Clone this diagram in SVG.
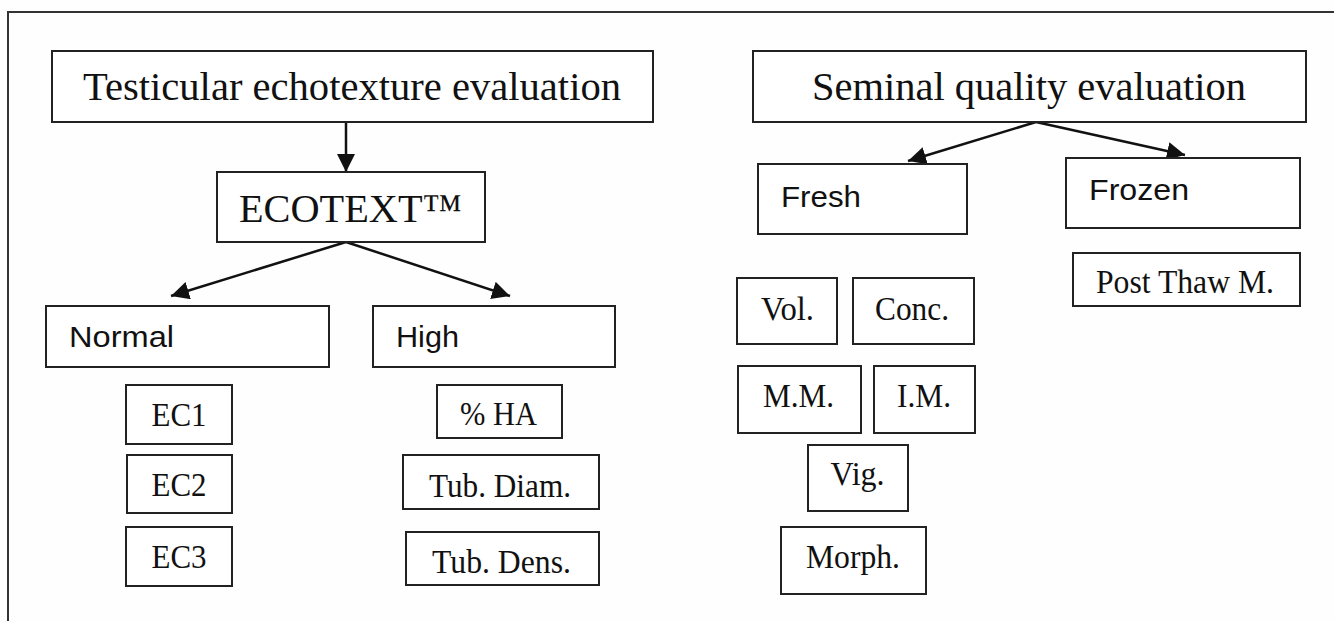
<svg xmlns="http://www.w3.org/2000/svg" width="1334" height="621" viewBox="0 0 1334 621">
  <style>
    .box { fill: #ffffff; stroke: #222222; stroke-width: 2; }
    .serif { font-family: "Liberation Serif", "Times New Roman", serif; fill: #111111; text-anchor: middle; }
    .sans { font-family: "Liberation Sans", Arial, sans-serif; fill: #111111; font-size: 30px; }
    .big { font-size: 40.5px; }
    .small { font-size: 33px; }
    .link { fill: none; stroke: #111111; stroke-width: 2.5; }
  </style>
  <defs>
    <marker id="arrow" markerUnits="userSpaceOnUse" markerWidth="20" markerHeight="20" refX="18" refY="9" orient="auto">
      <path d="M0,0 L18,9 L0,18 Z" fill="#111111"/>
    </marker>
  </defs>

  <rect x="0" y="0" width="1334" height="621" fill="#fefefe"/>
  <!-- page frame: top and left rules only -->
  <path d="M8,621 V12 H1334" fill="none" stroke="#333333" stroke-width="2"/>

  <g id="connectors">
    <line class="link" x1="346" y1="122" x2="346" y2="172" marker-end="url(#arrow)"/>
    <line class="link" x1="346" y1="242" x2="171" y2="296" marker-end="url(#arrow)"/>
    <line class="link" x1="346" y1="242" x2="510" y2="296" marker-end="url(#arrow)"/>
    <line class="link" x1="1036" y1="122" x2="908" y2="161" marker-end="url(#arrow)"/>
    <line class="link" x1="1036" y1="122" x2="1185" y2="155" marker-end="url(#arrow)"/>
  </g>

  <!-- left tree -->
  <g id="testicular">
    <rect class="box" x="52" y="51" width="601" height="71"/>
    <text class="serif big" x="352" y="100" textLength="538" lengthAdjust="spacingAndGlyphs">Testicular echotexture evaluation</text>
  </g>
  <g id="ecotext">
    <rect class="box" x="217" y="172" width="268" height="70"/>
    <text class="serif big" x="350.5" y="222" textLength="223" lengthAdjust="spacingAndGlyphs">ECOTEXT™</text>
  </g>
  <g id="normal">
    <rect class="box" x="46" y="306" width="283" height="61"/>
    <text class="sans" x="69" y="347" textLength="105" lengthAdjust="spacingAndGlyphs">Normal</text>
  </g>
  <g id="high">
    <rect class="box" x="373" y="306" width="242" height="61"/>
    <text class="sans" x="396" y="347" textLength="63" lengthAdjust="spacingAndGlyphs">High</text>
  </g>
  <g id="ec1">
    <rect class="box" x="126" y="385" width="106" height="59"/>
    <text class="serif small" x="179" y="426" textLength="55" lengthAdjust="spacingAndGlyphs">EC1</text>
  </g>
  <g id="ec2">
    <rect class="box" x="127" y="455" width="105" height="58"/>
    <text class="serif small" x="179" y="496" textLength="55" lengthAdjust="spacingAndGlyphs">EC2</text>
  </g>
  <g id="ec3">
    <rect class="box" x="126" y="527" width="106" height="59"/>
    <text class="serif small" x="179" y="568" textLength="55" lengthAdjust="spacingAndGlyphs">EC3</text>
  </g>
  <g id="ha">
    <rect class="box" x="437" y="385" width="125" height="53"/>
    <text class="serif small" x="498.5" y="425" textLength="77" lengthAdjust="spacingAndGlyphs">% HA</text>
  </g>
  <g id="tub-diam">
    <rect class="box" x="403" y="455" width="196" height="54"/>
    <text class="serif small" x="500" y="497" textLength="142" lengthAdjust="spacingAndGlyphs">Tub. Diam.</text>
  </g>
  <g id="tub-dens">
    <rect class="box" x="406" y="532" width="193" height="53"/>
    <text class="serif small" x="501.5" y="573" textLength="139" lengthAdjust="spacingAndGlyphs">Tub. Dens.</text>
  </g>

  <!-- right tree -->
  <g id="seminal">
    <rect class="box" x="753" y="51" width="553" height="71"/>
    <text class="serif big" x="1029" y="100" textLength="434" lengthAdjust="spacingAndGlyphs">Seminal quality evaluation</text>
  </g>
  <g id="fresh">
    <rect class="box" x="758" y="164" width="209" height="70"/>
    <text class="sans" x="781" y="207" textLength="80" lengthAdjust="spacingAndGlyphs">Fresh</text>
  </g>
  <g id="frozen">
    <rect class="box" x="1066" y="158" width="234" height="70"/>
    <text class="sans" x="1089" y="200" textLength="100" lengthAdjust="spacingAndGlyphs">Frozen</text>
  </g>
  <g id="post-thaw">
    <rect class="box" x="1073" y="253" width="227" height="53"/>
    <text class="serif small" x="1185" y="293" textLength="178" lengthAdjust="spacingAndGlyphs">Post Thaw M.</text>
  </g>
  <g id="vol">
    <rect class="box" x="737" y="278" width="100" height="66"/>
    <text class="serif small" x="787.5" y="320" textLength="53" lengthAdjust="spacingAndGlyphs">Vol.</text>
  </g>
  <g id="conc">
    <rect class="box" x="853" y="278" width="121" height="66"/>
    <text class="serif small" x="912" y="320" textLength="74" lengthAdjust="spacingAndGlyphs">Conc.</text>
  </g>
  <g id="mm">
    <rect class="box" x="738" y="366" width="123" height="67"/>
    <text class="serif small" x="798.5" y="407" textLength="71" lengthAdjust="spacingAndGlyphs">M.M.</text>
  </g>
  <g id="im">
    <rect class="box" x="874" y="366" width="101" height="67"/>
    <text class="serif small" x="924" y="407" textLength="54" lengthAdjust="spacingAndGlyphs">I.M.</text>
  </g>
  <g id="vig">
    <rect class="box" x="808" y="445" width="100" height="66"/>
    <text class="serif small" x="857.5" y="485" textLength="54" lengthAdjust="spacingAndGlyphs">Vig.</text>
  </g>
  <g id="morph">
    <rect class="box" x="781" y="527" width="145" height="67"/>
    <text class="serif small" x="853" y="568" textLength="94" lengthAdjust="spacingAndGlyphs">Morph.</text>
  </g>
</svg>
